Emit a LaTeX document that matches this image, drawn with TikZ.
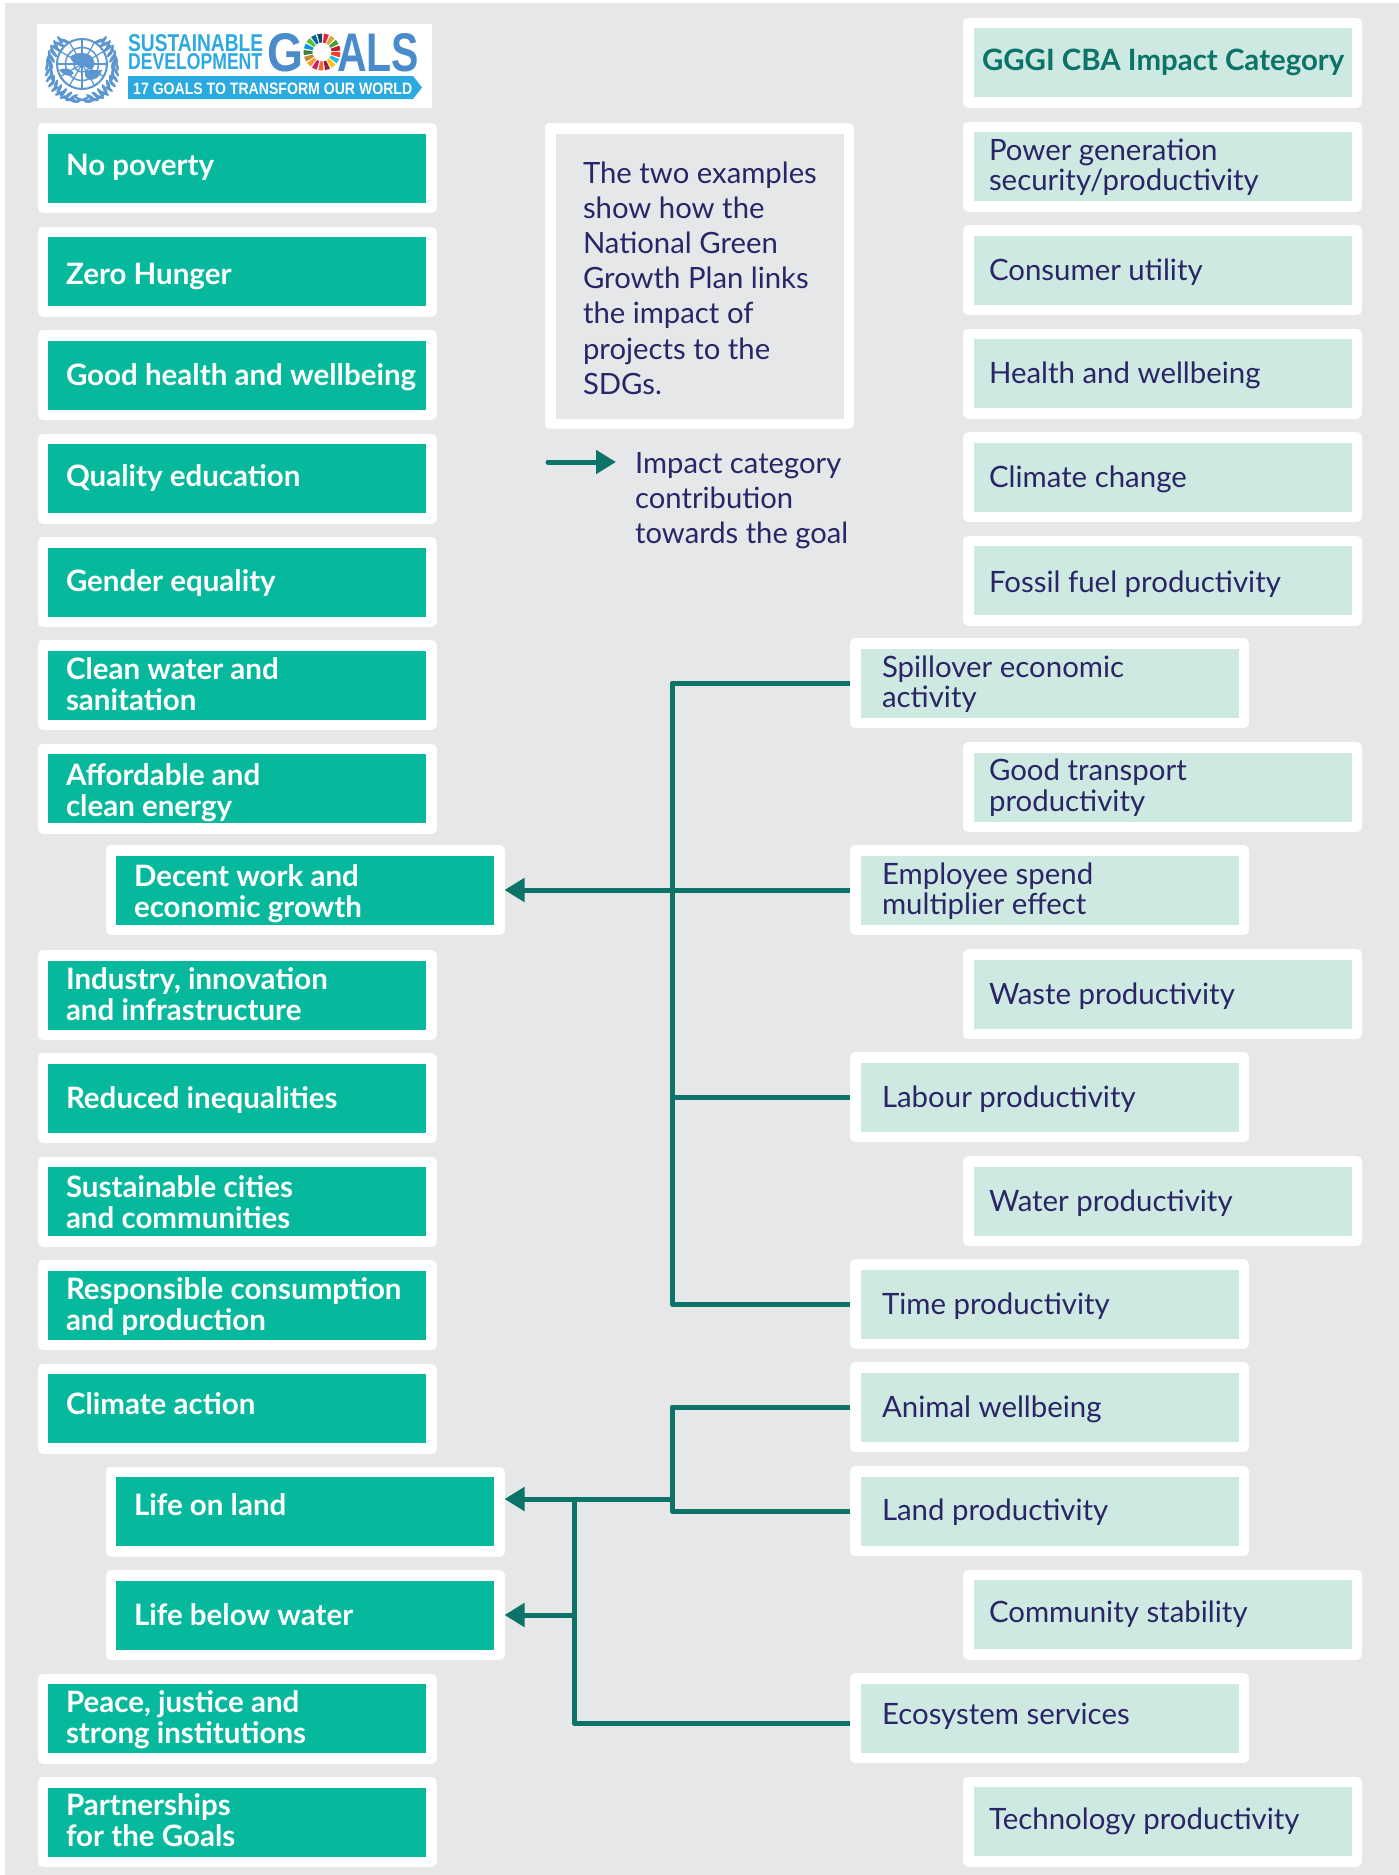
\documentclass[tikz,border=0pt]{standalone}
\usepackage{fontspec}
\setmainfont{Lato}
\newfontfamily\logofont{Liberation Sans}
\usetikzlibrary{arrows.meta,calc}
\definecolor{pagebg}{HTML}{E6E7E9}
\definecolor{goalgreen}{HTML}{06B99D}
\definecolor{impactpale}{HTML}{CEE9E1}
\definecolor{inknavy}{HTML}{2A2566}
\definecolor{linkteal}{HTML}{0C7369}
\definecolor{unblue}{HTML}{5B96D0}
\definecolor{goalsblue}{HTML}{4A8CCB}
\definecolor{ribbonblue}{HTML}{2BA9E1}
% \Tx[box width]{left pad}{raise}{lines}
\newcommand{\Tx}[4][376.5pt]{\makebox[#1][l]{\hspace*{#2pt}\raisebox{#3pt}[0pt][0pt]{\begin{tabular}{@{}l@{}}#4\end{tabular}}}}
\tikzset{
  framed/.style={rectangle, draw=white, line width=10.5pt, line join=round, inner ysep=0pt, inner xsep=6pt, minimum width=388.5pt, minimum height=79.5pt, font=\fontsize{29.4}{29.5}\selectfont},
  goalbox/.style={framed, fill=goalgreen, text=white, font=\fontsize{29.5}{29.5}\selectfont\bfseries},
  impactbox/.style={framed, fill=impactpale, text=inknavy},
  notebox/.style={framed, fill=pagebg, text=inknavy, minimum width=298.5pt, minimum height=295.5pt, font=\fontsize{29.3}{35.2}\selectfont},
  headbox/.style={framed, fill=impactpale, text=linkteal, font=\fontsize{29.4}{30}\selectfont\bfseries},
  plaintext/.style={inner sep=0pt, align=left, text=inknavy, font=\fontsize{29.2}{35}\selectfont},
  logotext/.style={inner sep=0pt, anchor=base west, font=\logofont\bfseries\fontsize{24}{24}\selectfont},
  conn/.style={draw=linkteal, line width=5pt, line join=round},
  connarrow/.style={conn, -{Triangle[length=20pt,width=23pt]}},
}
\begin{document}
\begin{tikzpicture}[x=1pt,y=-1pt]
\useasboundingbox (0,0) rectangle (1399,1875);
\fill[white] (0,0) rectangle (1399,1875);
\fill[pagebg] (5,3) rectangle (1399,1875);

% --- logo ---
\fill[white] (37,24) rectangle (432,108);
\begin{scope}[shift={(82,64)}]
  \foreach \r/\w in {8/1.5,16.5/1.5,25/2}{\draw[unblue,line width=\w pt] (0,0) circle (\r);}
  \draw[unblue,line width=1.5pt] (-25,0) -- (25,0) (0,-25) -- (0,25);
  \draw[unblue,line width=1.2pt] (-12.5,-21.6) -- (12.5,21.6) (12.5,-21.6) -- (-12.5,21.6) (-21.6,-12.5) -- (21.6,12.5) (21.6,-12.5) -- (-21.6,12.5);
  \fill[unblue] (-12,-7) .. controls (-6,-12) and (3,-12) .. (8,-9) .. controls (13,-5) and (14,2) .. (10,5) .. controls (5,6) and (4,1) .. (-1,1) .. controls (-6,1) and (-9,0) .. (-12,-7);
  \fill[unblue] (-23,6) .. controls (-17,3) and (-12,4) .. (-8,9) .. controls (-11,14) and (-17,12) .. (-23,6);
  \fill[unblue] (3,7) .. controls (9,5) and (16,7) .. (20,6) .. controls (19,13) and (11,18) .. (6,15) .. controls (3,13) and (2,10) .. (3,7);
  \foreach \ph in {34,44,...,164}{
    \fill[unblue] ({31.5*sin(\ph)},{-31.5*cos(\ph)+3}) ellipse[x radius=5.4, y radius=1.7, rotate=\ph-16];
    \fill[unblue] ({-31.5*sin(\ph)},{-31.5*cos(\ph)+3}) ellipse[x radius=5.4, y radius=1.7, rotate=-\ph+16];
    \fill[unblue] ({35*sin(\ph+5)},{-35*cos(\ph+5)+3}) ellipse[x radius=4.6, y radius=1.5, rotate=\ph+5+16];
    \fill[unblue] ({-35*sin(\ph+5)},{-35*cos(\ph+5)+3}) ellipse[x radius=4.6, y radius=1.5, rotate=-\ph-5-16];
  }
  \draw[unblue,line width=2pt] (-20,32) .. controls (-9,38) and (-3,38) .. (7,33) (20,32) .. controls (9,38) and (3,38) .. (-7,33);
\end{scope}
\node[logotext,text=ribbonblue] (sust) at (128,51) {\resizebox{135pt}{17pt}{SUSTAINABLE}};
\node[logotext,text=ribbonblue] (devel) at (128,69) {\resizebox{134pt}{16pt}{DEVELOPMENT}};
\node[logotext,text=goalsblue] (gg) at (267,71) {\resizebox{36pt}{38pt}{G}};
\node[logotext,text=goalsblue] (als) at (337,71) {\resizebox{82pt}{38pt}{ALS}};
\begin{scope}[shift={(322,52)}]
  \foreach \c [count=\i from 0] in {E5243B,DDA63A,4C9F38,C5192D,FF3A21,26BDE2,FCC30B,A21942,FD6925,DD1367,FD9D24,BF8B2E,3F7E44,0A97D9,56C02B,00689D,19486A}{
    \definecolor{seg}{HTML}{\c}
    \pgfmathsetmacro{\aa}{-76+\i*360/17-7.9}
    \pgfmathsetmacro{\ab}{-76+\i*360/17+7.9}
    \fill[seg] (\aa:18.5) arc[start angle=\aa,end angle=\ab,radius=18.5] -- (\ab:9.5) arc[start angle=\ab,end angle=\aa,radius=9.5] -- cycle;
  }
\end{scope}
\fill[ribbonblue] (128,76) -- (413,76) -- (422,87.5) -- (413,99) -- (128,99) -- cycle;
\node[logotext,text=white] (ribbon) at (133,94) {\resizebox{279pt}{11.5pt}{17 GOALS TO TRANSFORM OUR WORLD}};

% --- left column: SDGs ---
\node[goalbox] (g1) at (237,168) {\Tx{17.25}{-7.8}{No poverty}};
\node[goalbox] (g2) at (237,271.5) {\Tx{17.25}{-12.6}{Zero Hunger}};
\node[goalbox] (g3) at (237,375) {\Tx{17.25}{-10.2}{Good health and wellbeing}};
\node[goalbox] (g4) at (237,478.5) {\Tx{17.25}{-8}{Quality education}};
\node[goalbox] (g5) at (237,582) {\Tx{17.25}{-9}{Gender equality}};
\node[goalbox] (g6) at (237,685) {\Tx{17.25}{-9.5}{Clean water and\\sanitation}};
\node[goalbox] (g7) at (237,788.5) {\Tx{17.25}{-12}{Affordable and\\clean energy}};
\node[goalbox] (g8) at (305,890) {\Tx{17.25}{-12}{Decent work and\\economic growth}};
\node[goalbox] (g9) at (237,995) {\Tx{17.25}{-9.5}{Industry, innovation\\and infrastructure}};
\node[goalbox] (g10) at (237,1098) {\Tx{17.25}{-10}{Reduced inequalities}};
\node[goalbox] (g11) at (237,1201.5) {\Tx{17.25}{-11}{Sustainable cities\\and communities}};
\node[goalbox] (g12) at (237,1305) {\Tx{17.25}{-9.5}{Responsible consumption\\and production}};
\node[goalbox] (g13) at (237,1408.5) {\Tx{17.25}{-5.2}{Climate action}};
\node[goalbox] (g14) at (305,1511.5) {\Tx{17.25}{-4}{Life on land}};
\node[goalbox] (g15) at (305,1615) {\Tx{17.25}{-10}{Life below water}};
\node[goalbox] (g16) at (237,1718.5) {\Tx{17.25}{-9}{Peace, justice and\\strong institutions}};
\node[goalbox] (g17) at (237,1822) {\Tx{17.25}{-9}{Partnerships\\for the Goals}};

% --- right column: impact categories ---
\node[headbox] (head) at (1162.5,62.5) {\Tx{7.75}{-8}{GGGI CBA Impact Category}};
\node[impactbox] (i1) at (1162.5,166.5) {\Tx{14.75}{-8.8}{Power generation\\security/productivity}};
\node[impactbox] (i2) at (1162.5,270) {\Tx{14.75}{-10}{Consumer utility}};
\node[impactbox] (i3) at (1162.5,373.5) {\Tx{14.75}{-10}{Health and wellbeing}};
\node[impactbox] (i4) at (1162.5,477) {\Tx{14.75}{-10}{Climate change}};
\node[impactbox] (i5) at (1162.5,580.5) {\Tx{14.75}{-11.4}{Fossil fuel productivity}};
\node[impactbox] (i6) at (1049.5,683) {\Tx{20.75}{-9.5}{Spillover economic\\activity}};
\node[impactbox] (i7) at (1162.5,787) {\Tx{14.75}{-9}{Good transport\\productivity}};
\node[impactbox] (i8) at (1049.5,890) {\Tx{20.75}{-9.5}{Employee spend\\multiplier effect}};
\node[impactbox] (i9) at (1162.5,994) {\Tx{14.75}{-10.2}{Waste productivity}};
\node[impactbox] (i10) at (1049.5,1097) {\Tx{20.75}{-10}{Labour productivity}};
\node[impactbox] (i11) at (1162.5,1201) {\Tx{14.75}{-10.2}{Water productivity}};
\node[impactbox] (i12) at (1049.5,1304) {\Tx{20.75}{-10.2}{Time productivity}};
\node[impactbox] (i13) at (1049.5,1407) {\Tx{20.75}{-10}{Animal wellbeing}};
\node[impactbox] (i14) at (1049.5,1511) {\Tx{20.75}{-9}{Land productivity}};
\node[impactbox] (i15) at (1162.5,1614.5) {\Tx{14.75}{-8}{Community stability}};
\node[impactbox] (i16) at (1049.5,1718) {\Tx{20.75}{-6.6}{Ecosystem services}};
\node[impactbox] (i17) at (1162.5,1821.5) {\Tx{14.75}{-7.8}{Technology productivity}};

% --- note and legend ---
\node[notebox] (note) at (699.5,276) {\Tx[286.5pt]{26.75}{-11.8}{The two examples\\show how the\\National Green\\Growth Plan links\\the impact of\\projects to the\\SDGs.}};
\coordinate (legstart) at (548,462);
\coordinate (legend) at (616,462);
\draw[connarrow,line cap=round] (legstart) -- (legend);
\node[plaintext,anchor=north west] (legendtext) at (635,452) {Impact category\\contribution\\towards the goal};

% --- connectors ---
\coordinate (hubA) at (672,890);
\coordinate (hubB) at (672,1499);
\coordinate (hubC) at (574,1499);
\draw[conn] (i6.west) -| (hubA);
\draw[conn] (i12.west) -| (hubA);
\draw[conn] (i10.west) -- (i10.west -| hubA);
\draw[connarrow] (i8.west) -- (i8.west -| g8.east);
\draw[conn] (i13.west) -- (i13.west -| hubB) -- (i14.west -| hubB) -- (i14.west);
\draw[connarrow] (hubB) -- (hubB -| g14.east);
\draw[conn] (hubC) |- ([yshift=-5pt]i16.west);
\draw[connarrow] (hubC |- g15.east) -- (g15.east);
\end{tikzpicture}
\end{document}
